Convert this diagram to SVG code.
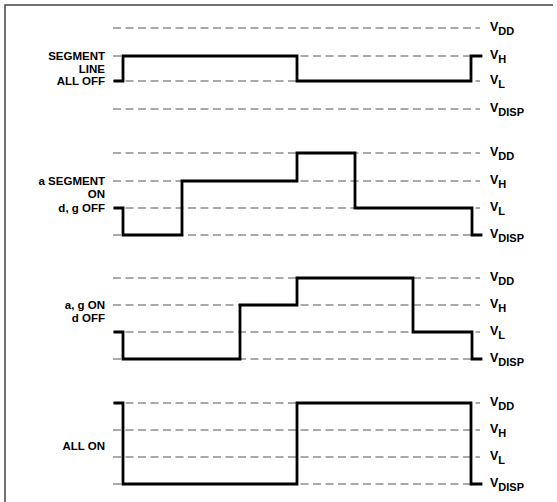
<svg xmlns="http://www.w3.org/2000/svg" width="557" height="502" viewBox="0 0 557 502">
<style>
.bg{fill:#fff}
.frame{fill:none;stroke:#444;stroke-width:1.5}
.dash{stroke:#555;stroke-width:1;stroke-dasharray:8 4.5;fill:none}
.wave{fill:none;stroke:#000;stroke-width:2.8;stroke-linejoin:miter;stroke-linecap:square}
text{font-family:"Liberation Sans",Arial,sans-serif;font-weight:bold;fill:#000}
.lab{font-size:11.5px;text-anchor:end}
.v{font-size:12.5px}
.sub{font-size:11px}
</style>
<rect class="bg" x="0" y="0" width="557" height="502"/>
<path class="frame" d="M5,502 V5 H553"/>

<g id="connectors">
<g id="levels1">
<line class="dash" x1="113" y1="28" x2="480" y2="28"/>
<line class="dash" x1="113" y1="56" x2="480" y2="56"/>
<line class="dash" x1="113" y1="81" x2="480" y2="81"/>
<line class="dash" x1="113" y1="109" x2="480" y2="109"/>
</g>
<g id="levels2">
<line class="dash" x1="113" y1="153" x2="480" y2="153"/>
<line class="dash" x1="113" y1="181" x2="480" y2="181"/>
<line class="dash" x1="113" y1="208" x2="480" y2="208"/>
<line class="dash" x1="113" y1="235" x2="480" y2="235"/>
</g>
<g id="levels3">
<line class="dash" x1="113" y1="278" x2="480" y2="278"/>
<line class="dash" x1="113" y1="305" x2="480" y2="305"/>
<line class="dash" x1="113" y1="332" x2="480" y2="332"/>
<line class="dash" x1="113" y1="359" x2="480" y2="359"/>
</g>
<g id="levels4">
<line class="dash" x1="113" y1="403" x2="480" y2="403"/>
<line class="dash" x1="113" y1="430" x2="480" y2="430"/>
<line class="dash" x1="113" y1="457" x2="480" y2="457"/>
<line class="dash" x1="113" y1="484" x2="480" y2="484"/>
</g>
</g>

<g id="wave1"><path class="wave" d="M115,81 H123 V56 H297 V81 H471 V56 H481"/></g>
<g id="wave2"><path class="wave" d="M115,208 H123 V235 H182 V181 H297 V153 H355 V208 H472 V235 H481"/></g>
<g id="wave3"><path class="wave" d="M115,332 H123 V359 H240 V305 H297 V278 H413 V332 H472 V359 H481"/></g>
<g id="wave4"><path class="wave" d="M115,403 H123 V484 H297 V403 H471 V484 H481"/></g>

<g id="label1">
<text class="lab" x="105" y="60">SEGMENT</text>
<text class="lab" x="105" y="72.5">LINE</text>
<text class="lab" x="105" y="85">ALL OFF</text>
</g>
<g id="label2">
<text class="lab" x="105" y="185">a SEGMENT</text>
<text class="lab" x="105" y="198">ON</text>
<text class="lab" x="105" y="212">d, g OFF</text>
</g>
<g id="label3">
<text class="lab" x="105" y="309">a, g ON</text>
<text class="lab" x="105" y="321.5">d OFF</text>
</g>
<g id="label4">
<text class="lab" x="105" y="450">ALL ON</text>
</g>

<g id="vlabels1">
<text class="v" x="490" y="31">V<tspan class="sub" dy="4">DD</tspan></text>
<text class="v" x="490" y="59">V<tspan class="sub" dy="4">H</tspan></text>
<text class="v" x="490" y="84">V<tspan class="sub" dy="4">L</tspan></text>
<text class="v" x="490" y="112">V<tspan class="sub" dy="4">DISP</tspan></text>
</g>
<g id="vlabels2">
<text class="v" x="490" y="156">V<tspan class="sub" dy="4">DD</tspan></text>
<text class="v" x="490" y="184">V<tspan class="sub" dy="4">H</tspan></text>
<text class="v" x="490" y="211">V<tspan class="sub" dy="4">L</tspan></text>
<text class="v" x="490" y="238">V<tspan class="sub" dy="4">DISP</tspan></text>
</g>
<g id="vlabels3">
<text class="v" x="490" y="281">V<tspan class="sub" dy="4">DD</tspan></text>
<text class="v" x="490" y="308">V<tspan class="sub" dy="4">H</tspan></text>
<text class="v" x="490" y="335">V<tspan class="sub" dy="4">L</tspan></text>
<text class="v" x="490" y="362">V<tspan class="sub" dy="4">DISP</tspan></text>
</g>
<g id="vlabels4">
<text class="v" x="490" y="406">V<tspan class="sub" dy="4">DD</tspan></text>
<text class="v" x="490" y="433">V<tspan class="sub" dy="4">H</tspan></text>
<text class="v" x="490" y="460">V<tspan class="sub" dy="4">L</tspan></text>
<text class="v" x="490" y="487">V<tspan class="sub" dy="4">DISP</tspan></text>
</g>
</svg>
